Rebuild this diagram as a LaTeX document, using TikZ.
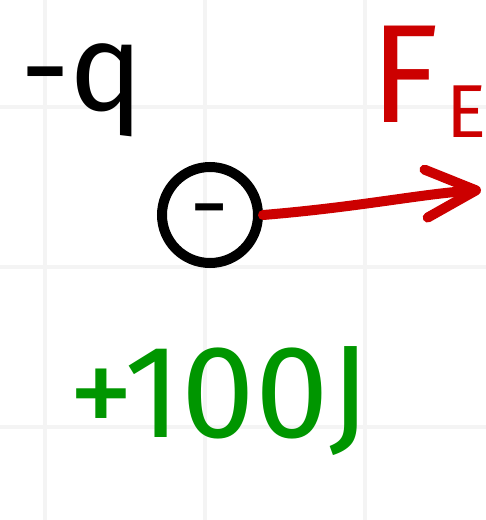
\documentclass[tikz,border=0pt]{standalone}
\usepackage{fontspec}
\setmainfont{Fira Sans}
\usetikzlibrary{arrows.meta}
\definecolor{inkred}{HTML}{CC0000}
\definecolor{inkgreen}{HTML}{009600}
\definecolor{gridgray}{HTML}{F4F4F4}
\begin{document}
\begin{tikzpicture}[x=1pt,y=-1pt,
  gridline/.style={gridgray,line width=4pt},
  hand/.style={inner sep=0pt,outer sep=0pt},
  forcearrow/.style={inkred,line width=10pt,line cap=round,
    -{Straight Barb[length=50pt,width=48pt,line cap=round,line join=round]}}]
\useasboundingbox (0,0) rectangle (486,520);
\fill[white] (0,0) rectangle (486,520);
% faint grid
\foreach \gx in {45,205,365} \draw[gridline] (\gx,0) -- (\gx,520);
\foreach \gy in {107,267,427} \draw[gridline] (0,\gy) -- (486,\gy);
% charge label
\node[hand,anchor=base west,font=\fontsize{124}{124}\selectfont] (qlabel) at (20,110) {-q};
% charge
\node[circle,draw=black,line width=10pt,minimum size=96pt,inner sep=0pt,
  font=\fontsize{58}{58}\selectfont\bfseries] (charge) at (210,215) {\raisebox{-4pt}{–}};
% force arrow
\coordinate (tip) at (481,190);
\draw[forcearrow] (charge.east) .. controls (360,207) and (420,194) .. (tip);
% force label
\node[hand,anchor=base west,text=inkred,font=\fontsize{140}{140}\selectfont] (Flabel) at (370,122) {F};
\node[hand,anchor=base west,text=inkred,font=\fontsize{75}{75}\selectfont] (Elabel) at (446,137) {E};
% energy label
\node[hand,anchor=base west,text=inkgreen,font=\fontsize{132}{132}\selectfont] (energy) at (68,437) {+100J};
\end{tikzpicture}
\end{document}
